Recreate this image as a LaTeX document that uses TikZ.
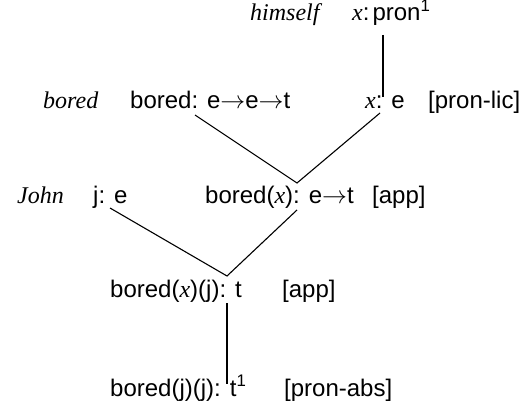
\documentclass[tikz,border=0pt]{standalone}
\usepackage{fontspec}
\setmainfont{Liberation Sans}
\newfontfamily\wordfont{Liberation Serif}
\newcommand{\vx}{{\wordfont\itshape x}}
\newcommand{\myto}{$\rightarrow$}
\begin{document}
\begin{tikzpicture}[x=1pt,y=-1pt,
  lbl/.style={inner sep=0pt, anchor=base west, font=\fontsize{24}{28}\selectfont},
  wrd/.style={inner sep=0pt, anchor=base west, font=\fontsize{24}{28}\selectfont\wordfont\itshape},
  conn/.style={line width=1.1pt}]
\fill[white] (0,0) rectangle (529,411);
\useasboundingbox (0,0) rectangle (529,411);
% row 1
\node[wrd] (himself) at (250,21) {himself};
\node[lbl] (xpron) at (352,21) {\vx:\hspace{3pt}pron\textsuperscript{1}};
% row 2
\node[wrd] (boredw) at (43,109) {bored};
\node[lbl] (boredf) at (130,109) {bored: e\myto e\myto t};
\node[lbl] (xe) at (365,109) {\vx: e};
\node[lbl] (lic) at (428,109) {[pron-lic]};
% row 3
\node[wrd] (john) at (17,204) {John};
\node[lbl] (je) at (93,204) {j: e};
\node[lbl] (bx) at (205,204) {bored(\vx): e\myto t};
\node[lbl] (app1) at (372,204) {[app]};
% row 4
\node[lbl] (bxj) at (110,297) {bored(\vx)(j):\hspace{9pt}t};
\node[lbl] (app2) at (282,297) {[app]};
% row 5
\node[lbl] (bjj) at (110,396) {bored(j)(j):\hspace{9pt}t\textsuperscript{1}};
\node[lbl] (abs) at (284,396) {[pron-abs]};
% connector ends
\coordinate (v1t) at (383,35);
\coordinate (v1b) at (383,97);
\coordinate (c2l) at (195,115);
\coordinate (c2r) at (380,113);
\coordinate (a1) at (297,183);
\coordinate (c3l) at (110,208);
\coordinate (c3r) at (297,210);
\coordinate (a2) at (227,276);
\coordinate (v2t) at (227,303);
\coordinate (v2b) at (227,384);
\draw[conn] (v1t) -- (v1b);
\draw[conn] (c2l) -- (a1) -- (c2r);
\draw[conn] (c3l) -- (a2) -- (c3r);
\draw[conn] (v2t) -- (v2b);
\end{tikzpicture}
\end{document}
